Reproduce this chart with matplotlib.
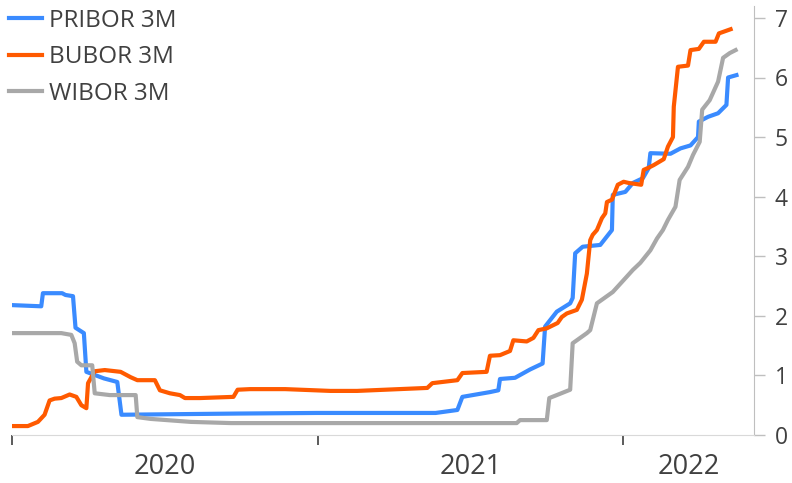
import pandas as pd
import matplotlib
matplotlib.use('Agg')
import matplotlib.pyplot as plt

plt.rcParams['font.family'] = ['Open Sans', 'DejaVu Sans']

# PRIBOR 3M (CZ)
pribor_dates = ['2020-01-01', '2020-02-05', '2020-02-07', '2020-03-01', '2020-03-05', '2020-03-14',
                '2020-03-17', '2020-03-27', '2020-03-30', '2020-04-20', '2020-05-06', '2020-05-11',
                '2020-09-28', '2020-12-31', '2021-05-22', '2021-06-17', '2021-06-23', '2021-07-26',
                '2021-08-05', '2021-08-07', '2021-08-25', '2021-09-12', '2021-09-27', '2021-09-30',
                '2021-10-14', '2021-10-30', '2021-11-02', '2021-11-05', '2021-11-14', '2021-12-05',
                '2021-12-19', '2021-12-20', '2022-01-04', '2022-01-13', '2022-01-25', '2022-02-01',
                '2022-02-03', '2022-02-27', '2022-03-11', '2022-03-23', '2022-04-01', '2022-04-02',
                '2022-04-13', '2022-04-25', '2022-05-05', '2022-05-07', '2022-05-17']
pribor = [2.18, 2.16, 2.38, 2.38, 2.35, 2.33,
          1.80, 1.71, 1.06, 0.95, 0.89, 0.34,
          0.36, 0.37, 0.37, 0.42, 0.64, 0.72,
          0.75, 0.94, 0.96, 1.10, 1.20, 1.82,
          2.07, 2.21, 2.30, 3.05, 3.16, 3.19,
          3.44, 4.03, 4.08, 4.23, 4.31, 4.48,
          4.73, 4.72, 4.81, 4.86, 5.00, 5.26,
          5.34, 5.40, 5.54, 6.00, 6.04]

# BUBOR 3M (HU)
bubor_dates = ['2020-01-01', '2020-01-20', '2020-02-01', '2020-02-09', '2020-02-15', '2020-02-21',
               '2020-02-29', '2020-03-10', '2020-03-18', '2020-03-24', '2020-03-30', '2020-04-01',
               '2020-04-09', '2020-04-21', '2020-05-10', '2020-05-22', '2020-05-30', '2020-06-20',
               '2020-06-26', '2020-07-08', '2020-07-20', '2020-07-26', '2020-08-13', '2020-09-22',
               '2020-09-27', '2020-10-12', '2020-11-23', '2021-01-16', '2021-02-17', '2021-05-12',
               '2021-05-18', '2021-06-17', '2021-06-23', '2021-07-22', '2021-07-26', '2021-08-07',
               '2021-08-19', '2021-08-23', '2021-09-08', '2021-09-16', '2021-09-22', '2021-10-02',
               '2021-10-15', '2021-10-20', '2021-10-26', '2021-11-07', '2021-11-13', '2021-11-19',
               '2021-11-23', '2021-11-26', '2021-12-01', '2021-12-07', '2021-12-11', '2021-12-13',
               '2021-12-19', '2021-12-26', '2022-01-02', '2022-01-08', '2022-01-23', '2022-01-26',
               '2022-01-31', '2022-02-07', '2022-02-19', '2022-02-24', '2022-03-02', '2022-03-03',
               '2022-03-08', '2022-03-20', '2022-03-23', '2022-04-02', '2022-04-08', '2022-04-22',
               '2022-04-26', '2022-05-10']
bubor = [0.15, 0.15, 0.22, 0.34, 0.58, 0.61,
         0.62, 0.68, 0.64, 0.50, 0.45, 0.87,
         1.07, 1.09, 1.06, 0.97, 0.92, 0.92,
         0.75, 0.70, 0.67, 0.62, 0.62, 0.64,
         0.76, 0.77, 0.77, 0.74, 0.74, 0.79,
         0.87, 0.92, 1.04, 1.06, 1.33, 1.34,
         1.41, 1.59, 1.57, 1.63, 1.76, 1.79,
         1.88, 1.98, 2.04, 2.10, 2.27, 2.71,
         3.27, 3.36, 3.44, 3.64, 3.72, 3.91,
         3.95, 4.20, 4.25, 4.23, 4.20, 4.45,
         4.48, 4.53, 4.63, 4.84, 5.00, 5.51,
         6.18, 6.20, 6.46, 6.48, 6.60, 6.60,
         6.74, 6.81]

# WIBOR 3M (PL)
wibor_dates = ['2020-01-01', '2020-02-29', '2020-03-12', '2020-03-16', '2020-03-19', '2020-03-24',
               '2020-04-06', '2020-04-09', '2020-04-27', '2020-05-28', '2020-05-30', '2020-06-15',
               '2020-08-02', '2020-09-19', '2021-08-27', '2021-08-31', '2021-10-02', '2021-10-05',
               '2021-10-14', '2021-10-30', '2021-11-02', '2021-11-19', '2021-11-23', '2021-12-01',
               '2021-12-07', '2021-12-20', '2022-01-02', '2022-01-13', '2022-01-22', '2022-02-03',
               '2022-02-11', '2022-02-18', '2022-02-24', '2022-03-05', '2022-03-10', '2022-03-20',
               '2022-03-26', '2022-04-03', '2022-04-06', '2022-04-15', '2022-04-25', '2022-05-01',
               '2022-05-09', '2022-05-16']
wibor = [1.71, 1.71, 1.68, 1.54, 1.23, 1.17,
         1.17, 0.70, 0.67, 0.67, 0.30, 0.27,
         0.22, 0.20, 0.20, 0.25, 0.25, 0.62,
         0.67, 0.76, 1.54, 1.71, 1.76, 2.21,
         2.27, 2.40, 2.60, 2.77, 2.89, 3.10,
         3.30, 3.44, 3.61, 3.83, 4.28, 4.50,
         4.70, 4.92, 5.46, 5.62, 5.93, 6.33,
         6.41, 6.46]

years = ['2020', '2021', '2022']
y_ticks = [0, 1, 2, 3, 4, 5, 6, 7]

text_col = '#404040'

fig = plt.figure(figsize=(7.92, 4.83), dpi=100)
ax = fig.add_axes([12 / 792, 48 / 483, 742 / 792, 429 / 483])

ax.plot(pd.to_datetime(pribor_dates), pribor, color='#3a8bff', lw=3, label='PRIBOR 3M',
        solid_joinstyle='round')
ax.plot(pd.to_datetime(bubor_dates), bubor, color='#ff5a00', lw=3, label='BUBOR 3M',
        solid_joinstyle='round')
ax.plot(pd.to_datetime(wibor_dates), wibor, color='#a8a8a8', lw=3, label='WIBOR 3M',
        solid_joinstyle='round')

x0 = pd.Timestamp('2020-01-01')
x1 = pd.Timestamp('2022-06-07')
ax.set_xlim(x0, x1)
ax.set_ylim(0, 7.2)

# year ticks at boundaries, labels centred in each year span
bounds = [pd.Timestamp(y + '-01-01') for y in years] + [x1]
ax.set_xticks(bounds[:-1])
ax.set_xticklabels([])
mids = [bounds[i] + (bounds[i + 1] - bounds[i]) / 2 for i in range(len(years))]
ax.set_xticks(mids, minor=True)
ax.set_xticklabels(years, minor=True)
ax.tick_params(axis='x', which='major', direction='out', length=7, width=1.2, color=text_col)
ax.tick_params(axis='x', which='minor', length=0, pad=13, labelsize=19.5, labelcolor=text_col)

ax.yaxis.tick_right()
ax.set_yticks(y_ticks)
ax.tick_params(axis='y', direction='out', length=8, width=1, color='#bfbfbf',
               labelsize=16.5, labelcolor=text_col, pad=7)

for s in ['top', 'left']:
    ax.spines[s].set_visible(False)
ax.spines['right'].set_color('#bfbfbf')
ax.spines['bottom'].set_color('#d9d9d9')

leg = ax.legend(loc='upper left', bbox_to_anchor=(0.0, 1.0), bbox_transform=fig.transFigure,
                frameon=False, fontsize=17.5, handlelength=1.36, handletextpad=0.3,
                labelspacing=0.52, borderpad=0.05, borderaxespad=0.3)
for t in leg.get_texts():
    t.set_color(text_col)

fig.savefig('out.png', dpi=100)
